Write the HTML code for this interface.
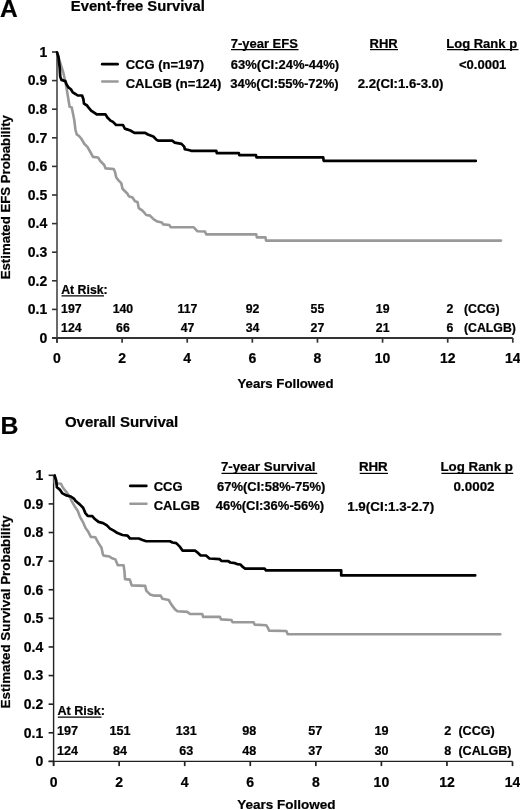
<!DOCTYPE html>
<html><head><meta charset="utf-8"><style>
html,body{margin:0;padding:0;background:#fff;width:520px;height:810px;overflow:hidden}
svg{display:block;font-family:"Liberation Sans",sans-serif;will-change:transform}
text{stroke:#000;stroke-width:0.22px}
</style></head><body>
<svg width="520" height="810" viewBox="0 0 520 810" font-family="Liberation Sans, sans-serif" font-weight="bold" fill="#000">
<rect width="520" height="810" fill="#fff"/>
<text x="0" y="17.4" font-size="24.5">A</text>
<text x="70.8" y="11.2" font-size="14.8">Event-free Survival</text>
<line x1="57" y1="52" x2="57" y2="342.7" stroke="#6a6a6a" stroke-width="2"/>
<line x1="52" y1="338" x2="512.8" y2="338" stroke="#333" stroke-width="2"/>
<line x1="52" y1="338.00" x2="57" y2="338.00" stroke="#333" stroke-width="1.6"/>
<text x="47.3" y="342.80" text-anchor="end" font-size="14">0</text>
<line x1="52" y1="309.40" x2="57" y2="309.40" stroke="#333" stroke-width="1.6"/>
<text x="47.3" y="314.20" text-anchor="end" font-size="14">0.1</text>
<line x1="52" y1="280.80" x2="57" y2="280.80" stroke="#333" stroke-width="1.6"/>
<text x="47.3" y="285.60" text-anchor="end" font-size="14">0.2</text>
<line x1="52" y1="252.20" x2="57" y2="252.20" stroke="#333" stroke-width="1.6"/>
<text x="47.3" y="257.00" text-anchor="end" font-size="14">0.3</text>
<line x1="52" y1="223.60" x2="57" y2="223.60" stroke="#333" stroke-width="1.6"/>
<text x="47.3" y="228.40" text-anchor="end" font-size="14">0.4</text>
<line x1="52" y1="195.00" x2="57" y2="195.00" stroke="#333" stroke-width="1.6"/>
<text x="47.3" y="199.80" text-anchor="end" font-size="14">0.5</text>
<line x1="52" y1="166.40" x2="57" y2="166.40" stroke="#333" stroke-width="1.6"/>
<text x="47.3" y="171.20" text-anchor="end" font-size="14">0.6</text>
<line x1="52" y1="137.80" x2="57" y2="137.80" stroke="#333" stroke-width="1.6"/>
<text x="47.3" y="142.60" text-anchor="end" font-size="14">0.7</text>
<line x1="52" y1="109.20" x2="57" y2="109.20" stroke="#333" stroke-width="1.6"/>
<text x="47.3" y="114.00" text-anchor="end" font-size="14">0.8</text>
<line x1="52" y1="80.60" x2="57" y2="80.60" stroke="#333" stroke-width="1.6"/>
<text x="47.3" y="85.40" text-anchor="end" font-size="14">0.9</text>
<line x1="52" y1="52.00" x2="57" y2="52.00" stroke="#333" stroke-width="1.6"/>
<text x="47.3" y="56.80" text-anchor="end" font-size="14">1</text>
<line x1="57.00" y1="338" x2="57.00" y2="342.7" stroke="#333" stroke-width="1.7"/>
<text x="57.00" y="363" text-anchor="middle" font-size="14">0</text>
<line x1="122.11" y1="338" x2="122.11" y2="342.7" stroke="#333" stroke-width="1.7"/>
<text x="122.11" y="363" text-anchor="middle" font-size="14">2</text>
<line x1="187.23" y1="338" x2="187.23" y2="342.7" stroke="#333" stroke-width="1.7"/>
<text x="187.23" y="363" text-anchor="middle" font-size="14">4</text>
<line x1="252.34" y1="338" x2="252.34" y2="342.7" stroke="#333" stroke-width="1.7"/>
<text x="252.34" y="363" text-anchor="middle" font-size="14">6</text>
<line x1="317.46" y1="338" x2="317.46" y2="342.7" stroke="#333" stroke-width="1.7"/>
<text x="317.46" y="363" text-anchor="middle" font-size="14">8</text>
<line x1="382.57" y1="338" x2="382.57" y2="342.7" stroke="#333" stroke-width="1.7"/>
<text x="382.57" y="363" text-anchor="middle" font-size="14">10</text>
<line x1="447.69" y1="338" x2="447.69" y2="342.7" stroke="#333" stroke-width="1.7"/>
<text x="447.69" y="363" text-anchor="middle" font-size="14">12</text>
<line x1="512.80" y1="338" x2="512.80" y2="342.7" stroke="#333" stroke-width="1.7"/>
<text x="512.80" y="363" text-anchor="middle" font-size="14">14</text>
<text transform="translate(9.9,197.2) rotate(-90)" text-anchor="middle" font-size="13.2">Estimated EFS Probability</text>
<text x="285.5" y="388.4" text-anchor="middle" font-size="13.2">Years Followed</text>
<line x1="102.2" y1="64.2" x2="117.6" y2="64.2" stroke="#000" stroke-width="2.7" stroke-linecap="round"/>
<line x1="102.2" y1="81.6" x2="117.6" y2="81.6" stroke="#999" stroke-width="2.5" stroke-linecap="round"/>
<text x="125.7" y="68.7" font-size="13">CCG (n=197)</text>
<text x="125.7" y="87.8" font-size="13">CALGB (n=124)</text>
<text x="230.7" y="47.7" font-size="13">7-year EFS</text>
<line x1="231" y1="49.6" x2="298.5" y2="49.6" stroke="#000" stroke-width="1.2"/>
<text x="369.5" y="47.7" font-size="13">RHR</text>
<line x1="370" y1="49.6" x2="398" y2="49.6" stroke="#000" stroke-width="1.2"/>
<text x="446.3" y="47.7" font-size="13">Log Rank p</text>
<line x1="447" y1="49.6" x2="518.5" y2="49.6" stroke="#000" stroke-width="1.2"/>
<text x="230.8" y="68.7" font-size="13">63%(CI:24%-44%)</text>
<text x="230.3" y="87.7" font-size="13">34%(CI:55%-72%)</text>
<text x="459" y="68.7" font-size="13">&lt;0.0001</text>
<text x="357.7" y="87.7" font-size="13.2">2.2(CI:1.6-3.0)</text>
<text x="61.2" y="293.5" font-size="12.3">At Risk:</text>
<line x1="61.5" y1="295.9" x2="104" y2="295.9" stroke="#000" stroke-width="1.2"/>
<text x="61.1" y="312.6" font-size="12.3">197</text>
<text x="61.1" y="332.0" font-size="12.3">124</text>
<text x="122.96" y="312.6" text-anchor="middle" font-size="12.3">140</text>
<text x="122.96" y="332.0" text-anchor="middle" font-size="12.3">66</text>
<text x="187.53" y="312.6" text-anchor="middle" font-size="12.3">117</text>
<text x="187.53" y="332.0" text-anchor="middle" font-size="12.3">47</text>
<text x="252.64" y="312.6" text-anchor="middle" font-size="12.3">92</text>
<text x="252.64" y="332.0" text-anchor="middle" font-size="12.3">34</text>
<text x="317.46" y="312.6" text-anchor="middle" font-size="12.3">55</text>
<text x="317.46" y="332.0" text-anchor="middle" font-size="12.3">27</text>
<text x="382.67" y="312.6" text-anchor="middle" font-size="12.3">19</text>
<text x="382.67" y="332.0" text-anchor="middle" font-size="12.3">21</text>
<text x="453.4" y="312.6" text-anchor="end" font-size="12.3">2</text>
<text x="453.4" y="332.0" text-anchor="end" font-size="12.3">6</text>
<text x="464" y="312.6" font-size="12.3">(CCG)</text>
<text x="464" y="332.0" font-size="12.3">(CALGB)</text>
<polyline points="57.00,52.40 60.25,63.00 63.40,73.00 65.90,84.25 67.75,95.50 69.60,106.75 71.75,107.50 73.00,113.75 74.25,120.00 75.50,130.00 76.75,134.40 79.25,136.25 81.75,139.40 84.25,143.75 87.40,146.90 89.90,151.25 93.00,156.90 98.00,157.50 100.50,161.25 104.25,165.00 105.60,168.40 113.75,169.00 115.00,171.90 116.25,177.50 118.75,180.60 121.25,183.10 122.50,188.75 125.00,191.25 127.50,193.75 128.75,196.25 132.50,197.50 135.00,201.25 137.50,201.90 138.75,208.10 142.50,210.60 146.25,215.00 150.00,215.60 153.75,219.40 157.50,221.60 161.90,222.50 163.10,224.40 169.40,225.00 170.60,227.25 193.75,227.25 195.60,229.40 197.50,231.25 205.00,231.50 206.25,234.40 256.30,234.40 256.80,237.40 265.50,237.40 266.00,240.60 501.00,240.60" fill="none" stroke="#999" stroke-width="2.6" stroke-linejoin="round" stroke-linecap="round"/>
<polyline points="57.00,52.40 58.40,56.75 59.60,66.75 60.25,76.75 61.50,79.90 65.25,81.10 66.50,84.25 68.40,87.40 70.90,89.25 72.75,92.40 75.90,94.25 77.75,95.50 82.10,95.50 83.40,99.25 84.00,103.60 87.10,105.50 88.00,106.90 91.10,110.60 94.90,113.10 96.75,114.40 105.50,114.40 107.40,117.50 110.50,120.60 113.00,121.90 116.10,125.00 123.00,125.00 124.90,128.75 126.30,129.10 130.40,130.50 134.40,132.80 145.20,132.80 147.90,134.50 153.30,136.50 156.60,139.90 158.00,140.60 172.10,140.60 174.80,142.60 181.50,143.90 184.20,146.60 184.90,149.30 189.60,150.30 191.20,150.80 216.30,150.80 216.80,153.20 238.80,153.20 239.30,155.20 256.00,155.20 256.50,157.40 323.20,157.40 323.70,160.90 475.80,160.90" fill="none" stroke="#000" stroke-width="2.7" stroke-linejoin="round" stroke-linecap="round"/>
<text x="0.6" y="433.6" font-size="24.8">B</text>
<text x="64.9" y="427" font-size="15">Overall Survival</text>
<line x1="53.6" y1="475.3" x2="53.6" y2="766.1" stroke="#222" stroke-width="1.4"/>
<line x1="48.6" y1="761.4" x2="512.5" y2="761.4" stroke="#222" stroke-width="1.4"/>
<line x1="48.6" y1="761.40" x2="53.6" y2="761.40" stroke="#222" stroke-width="1.6"/>
<text x="43.2" y="766.20" text-anchor="end" font-size="14">0</text>
<line x1="48.6" y1="732.79" x2="53.6" y2="732.79" stroke="#222" stroke-width="1.6"/>
<text x="43.2" y="737.59" text-anchor="end" font-size="14">0.1</text>
<line x1="48.6" y1="704.18" x2="53.6" y2="704.18" stroke="#222" stroke-width="1.6"/>
<text x="43.2" y="708.98" text-anchor="end" font-size="14">0.2</text>
<line x1="48.6" y1="675.57" x2="53.6" y2="675.57" stroke="#222" stroke-width="1.6"/>
<text x="43.2" y="680.37" text-anchor="end" font-size="14">0.3</text>
<line x1="48.6" y1="646.96" x2="53.6" y2="646.96" stroke="#222" stroke-width="1.6"/>
<text x="43.2" y="651.76" text-anchor="end" font-size="14">0.4</text>
<line x1="48.6" y1="618.35" x2="53.6" y2="618.35" stroke="#222" stroke-width="1.6"/>
<text x="43.2" y="623.15" text-anchor="end" font-size="14">0.5</text>
<line x1="48.6" y1="589.74" x2="53.6" y2="589.74" stroke="#222" stroke-width="1.6"/>
<text x="43.2" y="594.54" text-anchor="end" font-size="14">0.6</text>
<line x1="48.6" y1="561.13" x2="53.6" y2="561.13" stroke="#222" stroke-width="1.6"/>
<text x="43.2" y="565.93" text-anchor="end" font-size="14">0.7</text>
<line x1="48.6" y1="532.52" x2="53.6" y2="532.52" stroke="#222" stroke-width="1.6"/>
<text x="43.2" y="537.32" text-anchor="end" font-size="14">0.8</text>
<line x1="48.6" y1="503.91" x2="53.6" y2="503.91" stroke="#222" stroke-width="1.6"/>
<text x="43.2" y="508.71" text-anchor="end" font-size="14">0.9</text>
<line x1="48.6" y1="475.30" x2="53.6" y2="475.30" stroke="#222" stroke-width="1.6"/>
<text x="43.2" y="480.10" text-anchor="end" font-size="14">1</text>
<line x1="53.60" y1="761.4" x2="53.60" y2="766.1" stroke="#222" stroke-width="1.7"/>
<text x="53.60" y="787.2" text-anchor="middle" font-size="14">0</text>
<line x1="119.16" y1="761.4" x2="119.16" y2="766.1" stroke="#222" stroke-width="1.7"/>
<text x="119.16" y="787.2" text-anchor="middle" font-size="14">2</text>
<line x1="184.71" y1="761.4" x2="184.71" y2="766.1" stroke="#222" stroke-width="1.7"/>
<text x="184.71" y="787.2" text-anchor="middle" font-size="14">4</text>
<line x1="250.27" y1="761.4" x2="250.27" y2="766.1" stroke="#222" stroke-width="1.7"/>
<text x="250.27" y="787.2" text-anchor="middle" font-size="14">6</text>
<line x1="315.83" y1="761.4" x2="315.83" y2="766.1" stroke="#222" stroke-width="1.7"/>
<text x="315.83" y="787.2" text-anchor="middle" font-size="14">8</text>
<line x1="381.39" y1="761.4" x2="381.39" y2="766.1" stroke="#222" stroke-width="1.7"/>
<text x="381.39" y="787.2" text-anchor="middle" font-size="14">10</text>
<line x1="446.94" y1="761.4" x2="446.94" y2="766.1" stroke="#222" stroke-width="1.7"/>
<text x="446.94" y="787.2" text-anchor="middle" font-size="14">12</text>
<line x1="512.50" y1="761.4" x2="512.50" y2="766.1" stroke="#222" stroke-width="1.7"/>
<text x="512.50" y="787.2" text-anchor="middle" font-size="14">14</text>
<text transform="translate(9.9,612) rotate(-90)" text-anchor="middle" font-size="13.4">Estimated Survival Probability</text>
<text x="286.3" y="808.8" text-anchor="middle" font-size="13.5">Years Followed</text>
<line x1="130.3" y1="485.9" x2="146.3" y2="485.9" stroke="#000" stroke-width="2.8" stroke-linecap="round"/>
<line x1="130.4" y1="503.7" x2="146.5" y2="503.7" stroke="#999" stroke-width="2.5" stroke-linecap="round"/>
<text x="153.7" y="491" font-size="13">CCG</text>
<text x="153.7" y="510.4" font-size="13">CALGB</text>
<text x="220.9" y="470.6" font-size="13.3">7-year Survival</text>
<line x1="221.5" y1="473.4" x2="317.2" y2="473.4" stroke="#000" stroke-width="1.2"/>
<text x="358.9" y="470.6" font-size="13.3">RHR</text>
<line x1="359.7" y1="473.4" x2="388" y2="473.4" stroke="#000" stroke-width="1.2"/>
<text x="440.5" y="470.6" font-size="13.3">Log Rank p</text>
<line x1="441.4" y1="473.4" x2="513.2" y2="473.4" stroke="#000" stroke-width="1.2"/>
<text x="217" y="491.3" font-size="13">67%(CI:58%-75%)</text>
<text x="215.7" y="510" font-size="13">46%(CI:36%-56%)</text>
<text x="453.6" y="491.4" font-size="13.4">0.0002</text>
<text x="347.2" y="510.5" font-size="13.4">1.9(CI:1.3-2.7)</text>
<text x="57.4" y="714.6" font-size="12.6">At Risk:</text>
<line x1="57.8" y1="717.2" x2="101.5" y2="717.2" stroke="#000" stroke-width="1.2"/>
<text x="57" y="735" font-size="12.6">197</text>
<text x="57" y="754.6" font-size="12.6">124</text>
<text x="120.06" y="735" text-anchor="middle" font-size="12.6">151</text>
<text x="120.06" y="754.6" text-anchor="middle" font-size="12.6">84</text>
<text x="186.31" y="735" text-anchor="middle" font-size="12.6">131</text>
<text x="186.31" y="754.6" text-anchor="middle" font-size="12.6">63</text>
<text x="249.37" y="735" text-anchor="middle" font-size="12.6">98</text>
<text x="249.37" y="754.6" text-anchor="middle" font-size="12.6">48</text>
<text x="315.33" y="735" text-anchor="middle" font-size="12.6">57</text>
<text x="315.33" y="754.6" text-anchor="middle" font-size="12.6">37</text>
<text x="381.59" y="735" text-anchor="middle" font-size="12.6">19</text>
<text x="381.59" y="754.6" text-anchor="middle" font-size="12.6">30</text>
<text x="451.3" y="735" text-anchor="end" font-size="12.6">2</text>
<text x="451.3" y="754.6" text-anchor="end" font-size="12.6">8</text>
<text x="458.4" y="735" font-size="12.6">(CCG)</text>
<text x="458.4" y="754.6" font-size="12.6">(CALGB)</text>
<polyline points="54.60,475.50 54.90,483.30 61.00,483.80 62.70,487.30 65.00,490.20 67.30,493.10 70.20,497.70 71.50,500.80 74.60,506.20 77.70,510.80 80.00,516.90 83.10,522.30 85.40,527.70 88.10,531.50 90.80,536.90 95.40,537.30 98.50,543.10 101.50,547.70 102.90,554.60 103.80,555.60 109.60,556.50 111.50,558.00 115.40,559.40 117.80,565.20 123.60,565.20 124.50,571.90 125.00,579.10 129.80,579.60 131.70,585.40 145.20,585.90 146.25,590.60 150.00,594.40 153.75,595.60 160.60,595.60 162.50,598.75 168.75,600.00 171.25,604.40 175.00,609.40 177.50,611.25 187.50,611.90 190.00,614.00 202.30,614.00 203.10,616.90 220.00,616.90 221.00,619.40 231.50,620.00 232.50,622.30 253.70,622.30 254.60,624.60 266.20,625.20 268.10,628.10 269.00,630.60 286.30,631.00 287.70,634.30 500.30,634.30" fill="none" stroke="#999" stroke-width="2.6" stroke-linejoin="round" stroke-linecap="round"/>
<polyline points="54.60,475.50 56.30,481.00 56.90,487.30 59.80,489.60 62.10,493.10 66.20,495.40 70.80,496.50 74.20,498.90 75.40,500.80 80.00,504.60 83.10,507.70 85.40,513.10 87.70,515.80 92.30,516.20 94.60,518.80 98.50,521.90 103.10,523.10 106.90,525.40 110.00,528.60 113.75,530.60 117.50,533.10 122.50,535.00 127.50,535.60 130.00,538.50 138.75,538.50 142.50,540.00 146.25,541.25 170.00,541.25 172.50,542.50 176.25,543.10 180.00,546.90 182.50,550.60 195.00,550.60 197.50,552.50 200.70,555.50 206.00,555.50 209.40,558.50 219.50,559.10 221.50,560.90 228.30,561.20 230.30,562.50 235.00,563.20 237.00,564.10 240.40,564.50 243.10,567.20 245.10,568.60 264.60,568.60 266.00,570.40 341.20,570.40 341.20,575.40 475.20,575.40" fill="none" stroke="#000" stroke-width="2.7" stroke-linejoin="round" stroke-linecap="round"/>
</svg>
</body></html>
